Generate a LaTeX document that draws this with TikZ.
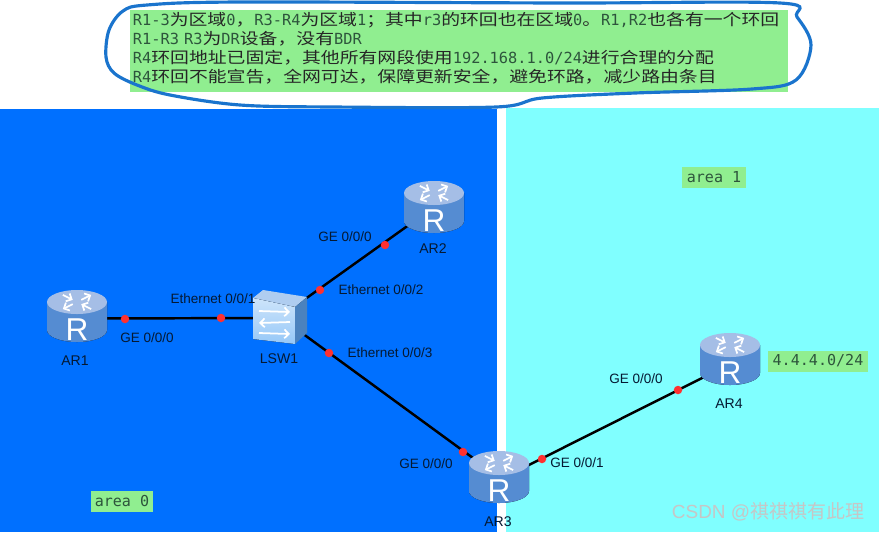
\documentclass[tikz,border=0pt]{standalone}
\usepackage{fontspec}
\setmainfont{Liberation Sans}
\setmonofont[Scale=0.98]{DejaVu Sans Mono}
\newfontfamily\cjk[FakeStretch=1.205]{Noto Sans CJK SC}
\newfontfamily\cjkmark{Noto Sans CJK SC}
\usetikzlibrary{arrows.meta,backgrounds}
\definecolor{AreaBlue}{RGB}{0,112,255}
\definecolor{AreaCyan}{RGB}{128,255,255}
\definecolor{NoteGreen}{RGB}{144,238,144}
\definecolor{NoteText}{RGB}{45,85,60}
\definecolor{InkBlue}{RGB}{26,116,205}
\definecolor{PortRed}{RGB}{255,48,48}
\definecolor{LabelDark}{RGB}{5,25,50}
\definecolor{RouterTop}{RGB}{165,190,230}
\definecolor{RouterLight}{RGB}{150,200,248}
\definecolor{RouterDark}{RGB}{85,140,210}
\definecolor{SwitchTop}{RGB}{175,205,240}
\definecolor{SwitchFront}{RGB}{205,228,250}
\definecolor{SwitchSide}{RGB}{75,130,190}
\newcommand{\zh}[1]{{\cjk\color{black!85}#1}}

\tikzset{
    routericon/.pic={
        \fill[left color=RouterDark, middle color=RouterLight, right color=RouterDark]
            (-30,-14) -- (-30,14) arc[start angle=180, end angle=0, x radius=30, y radius=12] -- (30,-14) -- cycle;
        \fill[RouterTop] (0,-14) ellipse[x radius=30, y radius=12];
        \begin{scope}[shift={(0,-14)}, yscale=0.5]
            \foreach \ang/\xa/\xb in {45/6/20, 135/20/6, 225/6/20, 315/20/6}
                \draw[white, line width=1pt, -{Straight Barb[length=2.5pt]}, rotate=\ang] (\xa,0) -- (\xb,0);
        \end{scope}
    },
    switchicon/.pic={
        \fill[SwitchTop] (-27,-19) -- (-17,-27) -- (27,-20) -- (15,-10) -- cycle;
        \fill[top color=SwitchFront, bottom color=RouterLight] (-27,-19) -- (15,-10) -- (15,27) -- (-27,22) -- cycle;
        \fill[SwitchSide] (15,-10) -- (27,-20) -- (27,16) -- (15,27) -- cycle;
        \foreach \yy/\xa/\xb in {-6/-21/10, 5/10/-21, 16/-21/10}
            \draw[white, line width=1pt, -{Straight Barb[length=2.5pt]}] (\xa,\yy) -- (\xb,\yy+1);
    }
}

\begin{document}
\begin{tikzpicture}[
    x=0.02cm, y=-0.02cm,
    routerbox/.style={minimum width=1.2cm, minimum height=1.06cm, inner sep=0pt, text=white, text height=0.96cm,
        font=\fontsize{18}{18}\selectfont},
    switchbox/.style={minimum width=1.08cm, minimum height=1.08cm, inner sep=0pt},
    portdot/.style={circle, fill=PortRed, minimum size=0.17cm, inner sep=0pt},
    ifacelabel/.style={text=LabelDark, font=\fontsize{7.7}{8}\selectfont, inner sep=0pt},
    devlabel/.style={text=LabelDark, font=\fontsize{8}{8}\selectfont, inner sep=0pt},
    greentag/.style={fill=NoteGreen, text=NoteText, font=\ttfamily\fontsize{8.75}{9}\selectfont, inner sep=0pt, minimum height=0.42cm},
    netlink/.style={draw=black, line width=1.4pt}
]
    \useasboundingbox (0,0) rectangle (879,532);
    \begin{scope}[on background layer]
        \fill[AreaBlue] (0,109) rectangle (497,532);
        \fill[AreaCyan] (506,108) rectangle (879,532);
    \end{scope}

    % note on top
    \node[fill=NoteGreen, text=NoteText, font=\ttfamily\fontsize{8.9}{10.8}\selectfont, align=left, anchor=north west,
        inner sep=0pt, text width=13.16cm, minimum height=1.64cm] (note) at (130,10)
        {\,R1-3\zh{为区域}0\zh{，}R3-R4\zh{为区域}1\zh{；其中}r3\zh{的环回也在区域}0\zh{。}R1,R2\zh{也各有一个环回}\\
         \,R1-R3 R3\zh{为}DR\zh{设备，没有}BDR\\
         \,R4\zh{环回地址已固定，其他所有网段使用}192.168.1.0/24\zh{进行合理的分配}\\
         \,R4\zh{环回不能宣告，全网可达，保障更新安全，避免环路，减少路由条目}\rule[-4.3pt]{0pt}{4.3pt}};
    \draw[InkBlue, line width=1.8pt] plot[smooth cycle, tension=0.55] coordinates {
        (780,3) (565,3) (240,2) (147,5) (123,11) (109,30) (106,57) (114,73) (137,85) (170,95)
        (240,105) (333,107) (496,107) (542,98) (635,93) (752,89) (796,80) (811,45) (797,17)};

    % devices
    \pic at (77,316) {routericon};
    \pic at (434,207) {routericon};
    \pic at (499,477) {routericon};
    \pic at (730,359) {routericon};
    \pic at (280,317) {switchicon};
    \node[routerbox] (ar1) at (77,316) {R};
    \node[routerbox] (ar2) at (434,207) {R};
    \node[routerbox] (ar3) at (499,477) {R};
    \node[routerbox] (ar4) at (730,359) {R};
    \node[switchbox] (lsw1) at (280,317) {};

    \begin{scope}[on background layer]
        \draw[netlink] ([yshift=-0.05cm]ar1.center) -- ([yshift=-0.02cm]lsw1.center);
        \draw[netlink] (lsw1.center) -- (ar2.center);
        \draw[netlink] (lsw1.center) -- (ar3.center);
        \draw[netlink] ([yshift=-0.06cm]ar3.center) -- ([yshift=-0.1cm]ar4.center);
    \end{scope}

    % ports
    \foreach \name/\px/\py in {p1/125/319, p2/221/318, p3/320/290, p4/385/245, p5/329/353, p6/463/452, p7/542/459, p8/678/390}
        \node[portdot] (\name) at (\px,\py) {};

    \node[devlabel] (ar1name) at (75,361) {AR1};
    \node[devlabel] (ar2name) at (433,249) {AR2};
    \node[devlabel] (ar3name) at (498,522) {AR3};
    \node[devlabel] (ar4name) at (729,404) {AR4};
    \node[devlabel] (lsw1name) at (279,359) {LSW1};

    \node[ifacelabel] (if1) at (147,338) {GE 0/0/0};
    \node[ifacelabel] (if2) at (213,299) {Ethernet 0/0/1};
    \node[ifacelabel] (if3) at (345,237) {GE 0/0/0};
    \node[ifacelabel] (if4) at (381,290) {Ethernet 0/0/2};
    \node[ifacelabel] (if5) at (390,353) {Ethernet 0/0/3};
    \node[ifacelabel] (if6) at (426,464) {GE 0/0/0};
    \node[ifacelabel] (if7) at (577,463) {GE 0/0/1};
    \node[ifacelabel] (if8) at (636,379) {GE 0/0/0};

    \node[greentag, minimum width=1.26cm] (area0) at (122,501) {area 0};
    \node[greentag, minimum width=1.28cm] (area1) at (714,177) {area 1};
    \node[greentag, minimum width=2cm] (loop4) at (818,361) {4.4.4.0/24};

    \node[text=gray!45!white, font=\fontsize{10.8}{12}\selectfont, inner sep=0pt] (mark) at (768,512) {CSDN @{\cjkmark 祺祺祺有此理}};
\end{tikzpicture}
\end{document}
